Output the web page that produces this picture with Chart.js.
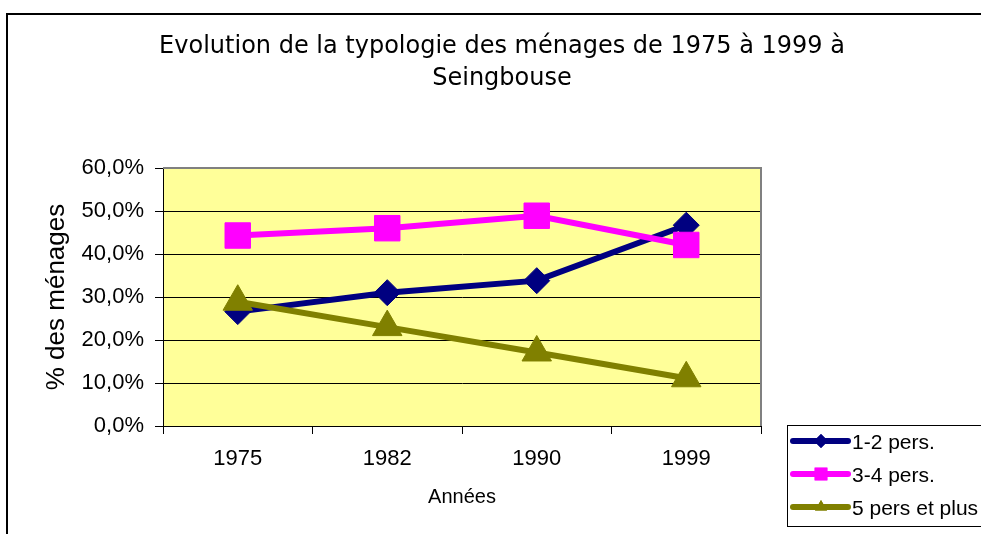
<!DOCTYPE html>
<html lang="fr">
<head>
<meta charset="utf-8"/>
<title>Typologie des ménages - Seingbouse</title>
<script src="https://cdn.jsdelivr.net/npm/chart.js"></script>
<style>
  html, body { margin: 0; padding: 0; background: #fff; }
  #box { width: 981px; height: 534px; position: relative; }
</style>
</head>
<body>
<div id="box"><canvas id="menages"></canvas></div>
<script>
  // données (en %)
  const annees = ['1975', '1982', '1990', '1999'];
  const pers12 = [26.6, 31.0, 33.8, 46.7];
  const pers34 = [44.3, 46.0, 48.9, 42.1];
  const pers5plus = [28.9, 23.0, 17.1, 11.1];
  const titre = ['Evolution de la typologie des ménages de 1975 à 1999 à', 'Seingbouse'];

  const ARIAL = "'Liberation Sans', Arial, sans-serif";

  // cadre, fond jaune, titre et légende façon Excel
  const decor = {
    id: 'decor',
    beforeDraw(chart) {
      const { ctx, chartArea: a } = chart;
      ctx.save();
      ctx.fillStyle = '#fff';
      ctx.fillRect(0, 0, chart.width, chart.height);
      ctx.strokeStyle = '#000';
      ctx.lineWidth = 2;
      ctx.beginPath();
      ctx.moveTo(7, chart.height + 2);
      ctx.lineTo(7, 14);
      ctx.lineTo(chart.width + 2, 14);
      ctx.stroke();
      ctx.fillStyle = '#FFFF99';
      ctx.fillRect(a.left, a.top, a.right - a.left, a.bottom - a.top);
      ctx.restore();
    },
    beforeDatasetsDraw(chart) {
      const { ctx, chartArea: a } = chart;
      ctx.save();
      ctx.strokeStyle = '#808080';
      ctx.lineWidth = 2;
      ctx.beginPath();
      ctx.moveTo(a.left, a.top);
      ctx.lineTo(a.right, a.top);
      ctx.lineTo(a.right, a.bottom);
      ctx.stroke();
      ctx.restore();
    },
    afterDraw(chart) {
      const { ctx } = chart;
      ctx.save();
      // titre
      ctx.fillStyle = '#000';
      ctx.font = "24px 'DejaVu Sans', Verdana, sans-serif";
      ctx.textAlign = 'center';
      ctx.textBaseline = 'alphabetic';
      ctx.fillText(titre[0], 502, 53);
      ctx.fillText(titre[1], 502, 85);

      // légende
      ctx.strokeStyle = '#000';
      ctx.lineWidth = 1;
      ctx.strokeRect(787.5, 425.5, 220, 101);
      const ys = [441, 474, 507];
      chart.data.datasets.forEach((ds, i) => {
        const y = ys[i];
        ctx.strokeStyle = ds.borderColor;
        ctx.lineWidth = 6;
        ctx.lineCap = 'round';
        ctx.beginPath();
        ctx.moveTo(793, y);
        ctx.lineTo(848, y);
        ctx.stroke();
        ctx.fillStyle = ds.borderColor;
        Chart.helpers.drawPoint(ctx, {
          pointStyle: ds.pointStyle,
          radius: ds.pointStyle === 'rect' ? 9 : 7,
          borderWidth: 0
        }, 821, y);
        ctx.fill();
        ctx.fillStyle = '#000';
        ctx.font = '21px ' + ARIAL;
        ctx.textAlign = 'left';
        ctx.textBaseline = 'middle';
        ctx.fillText(ds.label, 852, y + 2);
      });
      ctx.restore();
    }
  };

  new Chart(document.getElementById('menages'), {
    type: 'line',
    data: {
      labels: annees,
      datasets: [
        {
          label: '1-2 pers.',
          data: pers12,
          borderColor: '#000080',
          backgroundColor: '#000080',
          pointStyle: 'rectRot',
          pointRadius: 13,
          order: 3
        },
        {
          label: '3-4 pers.',
          data: pers34,
          borderColor: '#FF00FF',
          backgroundColor: '#FF00FF',
          pointStyle: 'rect',
          pointRadius: 18,
          order: 2
        },
        {
          label: '5 pers et plus',
          data: pers5plus,
          borderColor: '#808000',
          backgroundColor: '#808000',
          pointStyle: 'triangle',
          pointRadius: 17,
          order: 1
        }
      ]
    },
    options: {
      responsive: true,
      maintainAspectRatio: false,
      animation: false,
      events: [],
      layout: { padding: { top: 168, right: 220, left: 0, bottom: 0 } },
      elements: {
        line: { borderWidth: 6, tension: 0, fill: false },
        point: { borderWidth: 1, hoverRadius: 13 }
      },
      plugins: {
        legend: { display: false },
        title: { display: false },
        tooltip: { enabled: false }
      },
      scales: {
        x: {
          offset: true,
          afterFit(s) { s.height = 108; },
          grid: { offset: true, drawOnChartArea: false, color: '#000', tickLength: 8 },
          border: { color: '#000', width: 1 },
          ticks: { color: '#000', padding: 12, font: { family: ARIAL, size: 22 } },
          title: {
            display: true,
            text: 'Années',
            color: '#000',
            font: { family: ARIAL, size: 20 },
            padding: { top: 0, bottom: 25 }
          }
        },
        y: {
          min: 0,
          max: 60,
          afterFit(s) { s.width = 163; },
          grid: { color: '#000', lineWidth: 1, tickLength: 8 },
          border: { color: '#000', width: 1 },
          ticks: {
            stepSize: 10,
            color: '#000',
            padding: 11,
            font: { family: ARIAL, size: 22 },
            callback: v => v.toFixed(1).replace('.', ',') + '%'
          },
          title: {
            display: true,
            text: '% des ménages',
            color: '#000',
            font: { family: ARIAL, size: 26 },
            padding: { top: 41, bottom: 0 }
          }
        }
      }
    },
    plugins: [decor]
  });
</script>
</body>
</html>
